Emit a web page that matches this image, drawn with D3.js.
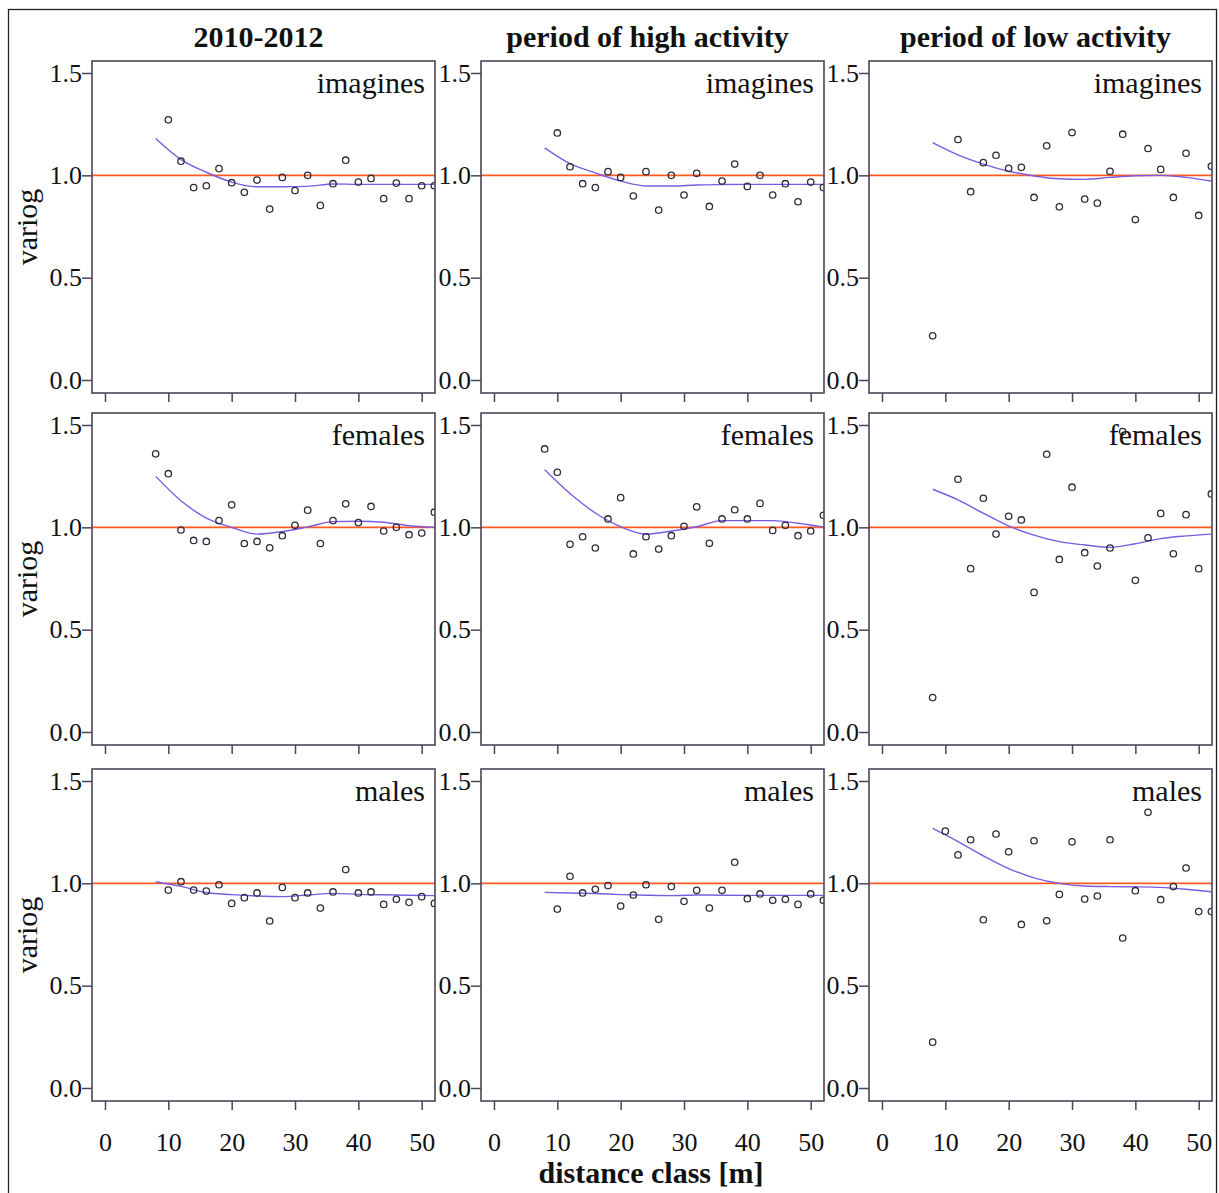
<!DOCTYPE html>
<html>
<head>
<meta charset="utf-8">
<script src="https://cdn.jsdelivr.net/npm/d3@7"></script>
<style>
  body { margin: 0; background: #ffffff; }
  text { font-family: "Liberation Serif", "Times New Roman", serif; fill: #111; }
</style>
</head>
<body>
<div id="vis"></div>
<script>
// data
const DIST = [8, 10, 12, 14, 16, 18, 20, 22, 24, 26, 28, 30, 32, 34, 36, 38, 40, 42, 44, 46, 48, 50, 52];
const LOESS_X = [8, 12, 16, 20, 24, 28, 32, 36, 40, 44, 48, 52];

const COL_TITLES = ["2010-2012", "period of high activity", "period of low activity"];
const ROW_LABELS = ["imagines", "females", "males"];
const Y_TICKS = [0, 0.5, 1.0, 1.5];
const X_TICKS = [0, 10, 20, 30, 40, 50];

// points (null = not shown)
const ALL_IMAGINES = [null, 1.271, 1.069, 0.940, 0.949, 1.033, 0.964, 0.917, 0.977, 0.835, 0.990, 0.926, 1.0, 0.853, 0.959, 1.074, 0.967, 0.985, 0.886, 0.962, 0.886, 0.949, 0.949];
const HIGH_IMAGINES = [null, 1.207, 1.042, 0.959, 0.940, 1.018, 0.990, 0.899, 1.018, 0.830, 1.0, 0.904, 1.010, 0.848, 0.972, 1.055, 0.946, 1.0, 0.904, 0.959, 0.871, 0.967, 0.940];
const LOW_IMAGINES = [0.216, null, 1.175, 0.920, 1.062, 1.098, 1.034, 1.039, 0.892, 1.144, 0.846, 1.209, 0.884, 0.864, 1.020, 1.201, 0.784, 1.131, 1.029, 0.892, 1.108, 0.804, 1.044];
const ALL_FEMALES = [1.359, 1.262, 0.987, 0.936, 0.931, 1.033, 1.110, 0.921, 0.931, 0.900, 0.959, 1.010, 1.084, 0.921, 1.033, 1.115, 1.023, 1.102, 0.982, 1.0, 0.964, 0.972, 1.074];
const HIGH_FEMALES = [1.383, 1.269, 0.917, 0.954, 0.899, 1.041, 1.145, 0.870, 0.954, 0.894, 0.959, 1.005, 1.100, 0.922, 1.041, 1.086, 1.041, 1.117, 0.985, 1.010, 0.959, 0.982, 1.059];
const LOW_FEMALES = [0.168, null, 1.235, 0.798, 1.142, 0.967, 1.054, 1.036, 0.682, 1.357, 0.843, 1.196, 0.876, 0.811, 0.899, 1.468, 0.741, 0.949, 1.068, 0.871, 1.062, 0.798, 1.163];
const ALL_MALES = [null, 0.967, 1.008, 0.967, 0.962, 0.993, 0.902, 0.930, 0.953, 0.816, 0.980, 0.930, 0.953, 0.879, 0.958, 1.067, 0.953, 0.958, 0.897, 0.922, 0.907, 0.935, 0.902];
const HIGH_MALES = [null, 0.874, 1.034, 0.953, 0.971, 0.989, 0.889, 0.943, 0.993, 0.824, 0.984, 0.912, 0.966, 0.879, 0.966, 1.103, 0.925, 0.948, 0.917, 0.922, 0.897, 0.948, 0.917];
const LOW_MALES = [0.224, 1.255, 1.139, 1.213, 0.822, 1.241, 1.154, 0.799, 1.208, 0.817, 0.946, 1.203, 0.923, 0.938, 1.213, 0.733, 0.964, 1.347, 0.920, 0.984, 1.075, 0.862, 0.862];

// smoothed lines at LOESS_X
const ALL_IMAGINES_FIT = [1.180, 1.077, 1.015, 0.967, 0.944, 0.944, 0.946, 0.958, 0.956, 0.956, 0.956, 0.956];
const HIGH_IMAGINES_FIT = [1.134, 1.057, 1.012, 0.972, 0.948, 0.948, 0.953, 0.955, 0.956, 0.956, 0.956, 0.956];
const LOW_IMAGINES_FIT = [1.160, 1.100, 1.055, 1.020, 0.997, 0.983, 0.980, 0.990, 0.998, 1.000, 0.990, 0.972];
const ALL_FEMALES_FIT = [1.249, 1.130, 1.045, 1.000, 0.967, 0.979, 1.002, 1.028, 1.030, 1.025, 1.008, 1.000];
const HIGH_FEMALES_FIT = [1.281, 1.165, 1.070, 1.003, 0.967, 0.982, 1.003, 1.033, 1.033, 1.033, 1.020, 1.002];
const LOW_FEMALES_FIT = [1.186, 1.134, 1.069, 1.007, 0.962, 0.930, 0.914, 0.902, 0.920, 0.945, 0.958, 0.967];
const ALL_MALES_FIT = [1.008, 0.985, 0.955, 0.945, 0.938, 0.935, 0.943, 0.951, 0.946, 0.944, 0.942, 0.940];
const HIGH_MALES_FIT = [0.956, 0.953, 0.950, 0.945, 0.942, 0.940, 0.943, 0.942, 0.941, 0.941, 0.941, 0.941];
const LOW_MALES_FIT = [1.268, 1.204, 1.134, 1.072, 1.027, 1.000, 0.987, 0.984, 0.983, 0.980, 0.971, 0.959];

const POINTS = [
  [ALL_IMAGINES, HIGH_IMAGINES, LOW_IMAGINES],
  [ALL_FEMALES, HIGH_FEMALES, LOW_FEMALES],
  [ALL_MALES, HIGH_MALES, LOW_MALES]
];
const FITS = [
  [ALL_IMAGINES_FIT, HIGH_IMAGINES_FIT, LOW_IMAGINES_FIT],
  [ALL_FEMALES_FIT, HIGH_FEMALES_FIT, LOW_FEMALES_FIT],
  [ALL_MALES_FIT, HIGH_MALES_FIT, LOW_MALES_FIT]
];

const FRAME_WIDTH = 1219;
const FRAME_HEIGHT = 1193;
const PANEL_W = 343;
const PANEL_H = 332;
const COL_LEFT = [92, 481, 869];
const ROW_TOP = [61, 413, 769];

const BOX_COLOR = "#4b4559";
const REF_COLOR = "#ff5a22";
const FIT_COLOR = "#7b5ce0";

const X_SCALE = d3.scaleLinear()
  .domain([-2.05, 52.1])
  .range([0, PANEL_W]);

const Y_SCALE = d3.scaleLinear()
  .domain([-0.0635, 1.5586])
  .range([PANEL_H, 0]);

const FRAME = d3.select("#vis")
  .append("svg")
    .attr("width", FRAME_WIDTH)
    .attr("height", FRAME_HEIGHT);

// outer border
FRAME.append("rect")
  .attr("x", 8.5)
  .attr("y", 9.5)
  .attr("width", 1208)
  .attr("height", 1200)
  .attr("fill", "none")
  .attr("stroke", "#222")
  .attr("stroke-width", 1.3);

FRAME.append("defs").append("clipPath")
  .attr("id", "clip")
  .append("rect")
    .attr("width", PANEL_W)
    .attr("height", PANEL_H);

const LINE = d3.line()
  .x((d) => X_SCALE(d[0]))
  .y((d) => Y_SCALE(d[1]))
  .curve(d3.curveMonotoneX);

for (let r = 0; r < 3; r++) {
  for (let c = 0; c < 3; c++) {
    let g = FRAME.append("g")
      .attr("transform", "translate(" + COL_LEFT[c] + "," + ROW_TOP[r] + ")");

    //y axis
    let yAxis = g.append("g")
      .call(d3.axisLeft(Y_SCALE).tickValues(Y_TICKS).tickSize(10).tickPadding(0).tickFormat(d3.format(".1f")));
    yAxis.select(".domain").remove();
    yAxis.selectAll("line").attr("stroke", BOX_COLOR).attr("stroke-width", 1.5);
    yAxis.selectAll("text")
      .attr("font-size", "26px")
      .attr("font-family", "Liberation Serif")
      .attr("fill", "#111");

    //x axis, labels on bottom row only
    let xAxis = g.append("g")
      .attr("transform", "translate(0," + PANEL_H + ")")
      .call(d3.axisBottom(X_SCALE).tickValues(X_TICKS).tickSize(9).tickPadding(23));
    xAxis.select(".domain").remove();
    xAxis.selectAll("line").attr("stroke", BOX_COLOR).attr("stroke-width", 1.5);
    if (r < 2) {
      xAxis.selectAll("text").remove();
    } else {
      xAxis.selectAll("text")
        .attr("font-size", "26px")
        .attr("font-family", "Liberation Serif")
        .attr("fill", "#111");
    }

    let plot = g.append("g").attr("clip-path", "url(#clip)");

    //reference line at 1
    plot.append("line")
      .attr("x1", 0)
      .attr("x2", PANEL_W)
      .attr("y1", Y_SCALE(1))
      .attr("y2", Y_SCALE(1))
      .attr("stroke", REF_COLOR)
      .attr("stroke-width", 1.6);

    //smoothed line
    let fit = LOESS_X.map((x, i) => [x, FITS[r][c][i]]);
    plot.append("path")
      .datum(fit)
      .attr("d", LINE)
      .attr("fill", "none")
      .attr("stroke", FIT_COLOR)
      .attr("stroke-width", 1.4);

    //points
    let pts = DIST.map((x, i) => ({x: x, v: POINTS[r][c][i]})).filter((d) => d.v !== null);
    plot.selectAll("circle")
      .data(pts)
      .enter()
      .append("circle")
        .attr("cx", (d) => X_SCALE(d.x))
        .attr("cy", (d) => Y_SCALE(d.v))
        .attr("r", 3.2)
        .attr("fill", "none")
        .attr("stroke", "#2f2b38")
        .attr("stroke-width", 1.3);

    //panel box
    g.append("rect")
      .attr("width", PANEL_W)
      .attr("height", PANEL_H)
      .attr("fill", "none")
      .attr("stroke", BOX_COLOR)
      .attr("stroke-width", 1.6);

    //panel label
    g.append("text")
      .attr("x", PANEL_W - 10)
      .attr("y", 32)
      .attr("text-anchor", "end")
      .attr("font-size", "30px")
      .text(ROW_LABELS[r]);
  }

  //y axis title
  FRAME.append("text")
    .attr("transform", "translate(37," + (ROW_TOP[r] + PANEL_H / 2) + ") rotate(-90)")
    .attr("text-anchor", "middle")
    .attr("font-size", "30px")
    .text("variog");
}

//column titles
for (let c = 0; c < 3; c++) {
  FRAME.append("text")
    .attr("x", COL_LEFT[c] + PANEL_W / 2 - 5)
    .attr("y", 47)
    .attr("text-anchor", "middle")
    .attr("font-size", "30px")
    .attr("font-weight", "bold")
    .text(COL_TITLES[c]);
}

//x axis title
FRAME.append("text")
  .attr("x", 651)
  .attr("y", 1183)
  .attr("text-anchor", "middle")
  .attr("font-size", "30px")
  .attr("font-weight", "bold")
  .text("distance class [m]");
</script>
</body>
</html>
